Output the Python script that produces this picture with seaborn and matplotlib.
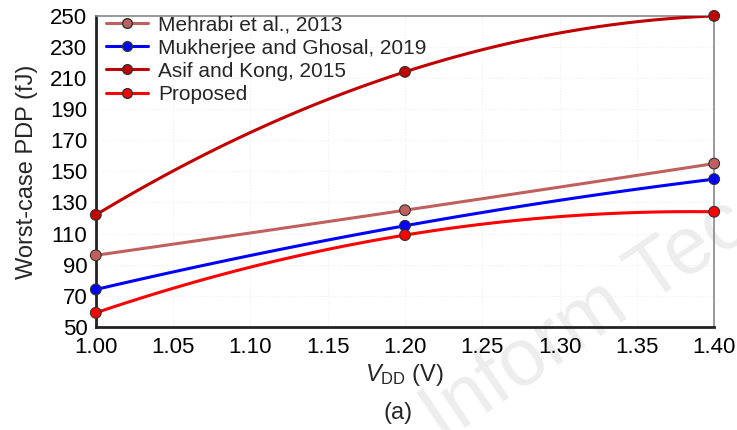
import numpy as np
import pandas as pd
import matplotlib
matplotlib.use("Agg")
import matplotlib.pyplot as plt
import seaborn as sns
from matplotlib.lines import Line2D

vdd = [1.00, 1.20, 1.40]
mehrabi = [96, 125, 155]
mukherjee = [74, 115, 145]
asif = [122, 214, 250]
proposed = [59, 109, 124]

series_names = ["Mehrabi et al., 2013", "Mukherjee and Ghosal, 2019",
                "Asif and Kong, 2015", "Proposed"]
series_vals = [mehrabi, mukherjee, asif, proposed]
colors = ["#c0605e", "#0000ff", "#c00000", "#ff0000"]

x_ticks = [1.00, 1.05, 1.10, 1.15, 1.20, 1.25, 1.30, 1.35, 1.40]
y_ticks = list(range(50, 251, 20))

sns.set_style("white")
plt.rcParams['font.family'] = ['Liberation Sans', 'DejaVu Sans']
plt.rcParams['mathtext.fontset'] = 'custom'
plt.rcParams['mathtext.it'] = 'Liberation Sans:italic'
plt.rcParams['mathtext.rm'] = 'Liberation Sans'

fig = plt.figure(figsize=(7.37, 4.30), dpi=100)
ax = fig.add_axes([0.130, 0.240, 0.839, 0.723])
ax.set_zorder(2)
ax.patch.set_alpha(0)

# faint watermark behind the plot
fig.text(0.600, -0.03, "Inform Tec", fontsize=58, color="#ededed",
         rotation=34, ha="left", va="baseline", rotation_mode="anchor",
         zorder=0)

rows = []
for name, vals in zip(series_names, series_vals):
    for x, y in zip(vdd, vals):
        rows.append({"vdd": x, "pdp": y, "series": name})
df = pd.DataFrame(rows)

# smooth rendering through the three points (quadratic)
curve_rows = []
xs = np.linspace(min(vdd), max(vdd), 120)
for name, vals in zip(series_names, series_vals):
    c = np.polyfit(vdd, vals, 2)
    for x in xs:
        curve_rows.append({"vdd": x, "pdp": np.polyval(c, x), "series": name})
cdf = pd.DataFrame(curve_rows)

pal = dict(zip(series_names, colors))
sns.lineplot(data=cdf, x="vdd", y="pdp", hue="series", palette=pal,
             linewidth=2.2, legend=False, ax=ax, zorder=3)
sns.scatterplot(data=df, x="vdd", y="pdp", hue="series", palette=pal,
                s=60, edgecolor="#333333", linewidth=0.8, legend=False,
                ax=ax, zorder=4, clip_on=False)

ax.set_xlim(1.00, 1.40)
ax.set_ylim(50, 250)
ax.set_xticks(x_ticks)
ax.set_xticklabels([f"{t:.2f}" for t in x_ticks])
ax.set_yticks(y_ticks)
ax.tick_params(direction="in", length=6, width=2, labelsize=16, colors="black")
ax.tick_params(axis="y", pad=6)
ax.tick_params(axis="x", pad=7)
ax.grid(True, color="#eeeeee", linestyle=":", linewidth=0.8)
for s in ["left", "bottom"]:
    ax.spines[s].set_color("#222222")
    ax.spines[s].set_linewidth(2)
for s in ["top", "right"]:
    ax.spines[s].set_color("#888888")
    ax.spines[s].set_linewidth(1.2)

ax.set_ylabel("Worst-case PDP (fJ)", fontsize=17, labelpad=9)
ax.set_xlabel(r"$V_{\rm DD}$ (V)", fontsize=17, labelpad=3)
fig.text(0.540, 0.025, "(a)", fontsize=17, ha="center")

handles = [Line2D([0], [0], color=c, lw=2.2, marker="o", markersize=7,
                  markeredgecolor="#333333", markerfacecolor=c)
           for c in colors]
ax.legend(handles, series_names, loc="upper left", frameon=False,
          fontsize=15, handlelength=2.0, borderaxespad=0.1,
          labelspacing=0.2, handletextpad=0.5, bbox_to_anchor=(0.0, 1.035))

fig.savefig("out.png", dpi=100)
